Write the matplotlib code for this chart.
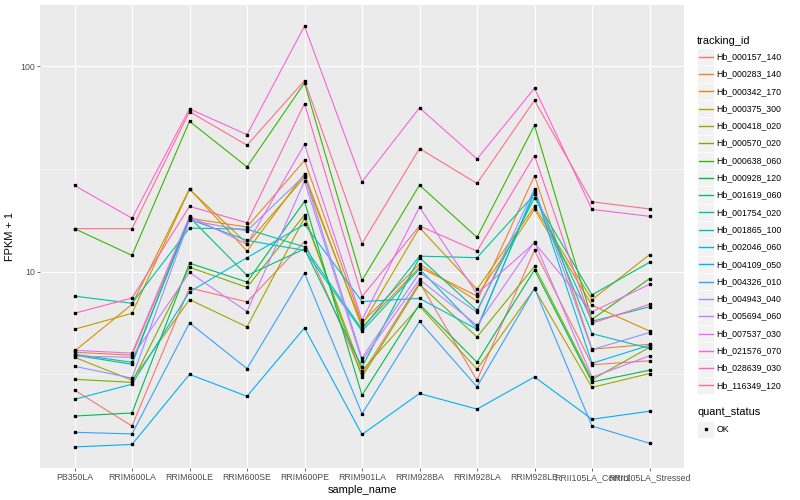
import numpy as np
import matplotlib
matplotlib.use("Agg")
import matplotlib.pyplot as plt
from matplotlib.patches import Rectangle
from matplotlib.lines import Line2D

plt.rcParams['font.family'] = ['Liberation Sans', 'DejaVu Sans']

samples = ["PB350LA", "RRIM600LA", "RRIM600LE", "RRIM600SE", "RRIM600PE",
           "RRIM901LA", "RRIM928BA", "RRIM928LA", "RRIM928LE",
           "RRII105LA_Control", "RRII105LA_Stressed"]

tracking_ids = ["Hb_000157_140", "Hb_000283_140", "Hb_000342_170", "Hb_000375_300",
                "Hb_000418_020", "Hb_000570_020", "Hb_000638_060", "Hb_000928_120",
                "Hb_001619_060", "Hb_001754_020", "Hb_001865_100", "Hb_002046_060",
                "Hb_004109_050", "Hb_004326_010", "Hb_004943_040", "Hb_005694_060",
                "Hb_007537_030", "Hb_021576_070", "Hb_028639_030", "Hb_116349_120"]

# FPKM + 1 values, one list per tracking id, ordered as `samples`
hb_000157_140 = [2.65, 1.77, 8.34, 7.12, 14.0, 3.17, 8.87, 2.96, 12.7, 3.52, 3.68]
hb_000283_140 = [4.05, 3.92, 18.2, 16.5, 34.8, 5.65, 10.9, 7.19, 29.3, 4.19, 4.43]
hb_000342_170 = [4.10, 6.93, 25.3, 12.6, 30.0, 5.35, 10.5, 7.61, 20.1, 6.86, 5.14]
hb_000375_300 = [5.24, 6.27, 25.2, 13.7, 28.8, 5.50, 16.4, 8.20, 20.8, 7.30, 12.1]
hb_000418_020 = [3.83, 2.96, 7.31, 5.38, 18.3, 3.29, 6.80, 3.35, 8.25, 2.73, 3.19]
hb_000570_020 = [2.99, 2.89, 10.5, 8.39, 18.9, 3.07, 8.67, 4.81, 10.6, 2.98, 4.28]
hb_000638_060 = [16.2, 12.0, 54.0, 32.4, 83.1, 9.07, 26.4, 14.7, 51.6, 5.86, 9.25]
hb_000928_120 = [1.98, 2.05, 11.0, 8.90, 22.0, 2.50, 6.93, 3.62, 10.2, 2.90, 3.31]
hb_001619_060 = [3.92, 3.54, 18.4, 9.59, 12.9, 3.43, 11.7, 6.48, 22.9, 7.71, 11.1]
hb_001754_020 = [7.60, 7.01, 16.3, 16.1, 13.2, 5.24, 11.9, 11.7, 23.8, 5.73, 6.74]
hb_001865_100 = [3.96, 3.62, 18.0, 14.2, 12.7, 5.13, 10.3, 5.31, 24.3, 4.99, 4.23]
hb_002046_060 = [2.39, 2.83, 7.97, 11.7, 17.0, 7.15, 7.41, 5.24, 24.7, 3.58, 4.38]
hb_004109_050 = [1.40, 1.44, 3.16, 2.47, 5.32, 1.61, 2.55, 2.14, 3.07, 1.91, 2.09]
hb_004326_010 = [1.65, 1.62, 5.63, 3.37, 9.84, 2.03, 5.72, 2.75, 8.30, 1.77, 1.46]
hb_004943_040 = [3.46, 3.03, 17.8, 15.8, 29.4, 3.79, 9.89, 6.35, 25.4, 4.17, 5.05]
hb_005694_060 = [3.88, 3.83, 9.92, 6.39, 27.6, 3.68, 9.17, 5.48, 14.0, 3.06, 3.89]
hb_007537_030 = [4.14, 4.01, 18.6, 13.6, 41.7, 5.82, 20.6, 7.80, 13.8, 6.37, 8.67]
hb_021576_070 = [26.3, 18.2, 62.1, 46.5, 157.2, 27.4, 62.8, 35.4, 78.2, 20.1, 18.6]
hb_028639_030 = [6.27, 7.44, 20.8, 17.3, 65.9, 7.56, 16.7, 12.6, 36.8, 5.61, 6.93]
hb_116349_120 = [16.2, 16.2, 60.2, 41.3, 85.2, 13.7, 39.8, 26.9, 68.3, 21.9, 20.2]

series = [hb_000157_140, hb_000283_140, hb_000342_170, hb_000375_300, hb_000418_020,
          hb_000570_020, hb_000638_060, hb_000928_120, hb_001619_060, hb_001754_020,
          hb_001865_100, hb_002046_060, hb_004109_050, hb_004326_010, hb_004943_040,
          hb_005694_060, hb_007537_030, hb_021576_070, hb_028639_030, hb_116349_120]

colors = ["#F8766D", "#EA8331", "#D89000", "#C09B00", "#A3A500", "#7CAE00", "#39B600",
          "#00BB4E", "#00BF7D", "#00C1A3", "#00BFC4", "#00BAE0", "#00B0F6", "#35A2FF",
          "#9590FF", "#C77CFF", "#E76BF3", "#FA62DB", "#FF62BC", "#FF6C91"]

W, H = 800, 500
fig = plt.figure(figsize=(W / 100, H / 100), dpi=100)
fig.patch.set_facecolor("white")

pl, pr, pt, pb = 40, 684, 5, 468
ax = fig.add_axes([pl / W, 1 - pb / H, (pr - pl) / W, (pb - pt) / H])
ax.set_facecolor("#EBEBEB")
for s in ax.spines.values():
    s.set_visible(False)

x = np.arange(1, len(samples) + 1)
for vals, c in zip(series, colors):
    ax.plot(x, vals, color=c, lw=0.8, solid_capstyle="butt", zorder=3)
for vals in series:
    ax.plot(x, vals, ls="none", marker="s", ms=2.1, color="black", zorder=4)

ax.set_yscale("log")
allv = np.concatenate([np.array(v, dtype=float) for v in series])
lo, hi = np.log10(allv.min()), np.log10(allv.max())
pad = 0.05 * (hi - lo)
ax.set_ylim(10 ** (lo - pad), 10 ** (hi + pad))
ax.set_xlim(0.4, len(samples) + 0.6)

ax.set_yticks([10, 100])
ax.set_yticklabels(["10", "100"])
ax.set_yticks([10 ** 0.5, 10 ** 1.5], minor=True)
ax.yaxis.set_minor_formatter(matplotlib.ticker.NullFormatter())
ax.set_xticks(x)
ax.set_xticklabels(samples)
ax.set_xticks([], minor=True)

ax.grid(True, which="major", color="white", lw=0.8)
ax.grid(True, which="minor", axis="y", color="white", lw=0.4)
ax.set_axisbelow(True)

ax.tick_params(axis="both", which="major", length=2.0, width=0.5, color="#333333",
               labelsize=6.3, labelcolor="#4D4D4D", pad=1.5)
ax.tick_params(axis="y", which="minor", length=0)

ax.set_xlabel("sample_name", fontsize=7.9, color="black", labelpad=2)
ax.set_ylabel("FPKM + 1", fontsize=7.9, color="black", labelpad=4)

# legend (drawn in figure pixel coordinates)
def fx(px):
    return px / W

def fy(py):
    return 1 - py / H

kx0, kw = 697, 17.3
fig.text(fx(kx0), fy(40.7), "tracking_id", fontsize=7.9, va="center", ha="left")
for i, (tid, c) in enumerate(zip(tracking_ids, colors)):
    yc = 56.7 + 17.3 * i
    fig.add_artist(Rectangle((fx(kx0), fy(yc + kw / 2)), kw / W, kw / H,
                             transform=fig.transFigure, facecolor="#F2F2F2",
                             edgecolor="white", lw=0.6, zorder=1))
    fig.add_artist(Line2D([fx(kx0 + 1.7), fx(kx0 + kw - 1.7)], [fy(yc), fy(yc)],
                          transform=fig.transFigure, color=c, lw=1.0, zorder=2))
    fig.text(fx(716.7), fy(yc), tid, fontsize=6.3, va="center", ha="left")

fig.text(fx(kx0), fy(412.3), "quant_status", fontsize=7.9, va="center", ha="left")
yc = 429.3
fig.add_artist(Rectangle((fx(kx0), fy(yc + kw / 2)), kw / W, kw / H,
                         transform=fig.transFigure, facecolor="#F2F2F2",
                         edgecolor="white", lw=0.6, zorder=1))
fig.add_artist(Line2D([fx(kx0 + kw / 2)], [fy(yc)], transform=fig.transFigure,
                      marker="s", ms=2.1, color="black", ls="none", zorder=2))
fig.text(fx(716.7), fy(yc), "OK", fontsize=6.3, va="center", ha="left")

fig.savefig("out.png", dpi=100)
